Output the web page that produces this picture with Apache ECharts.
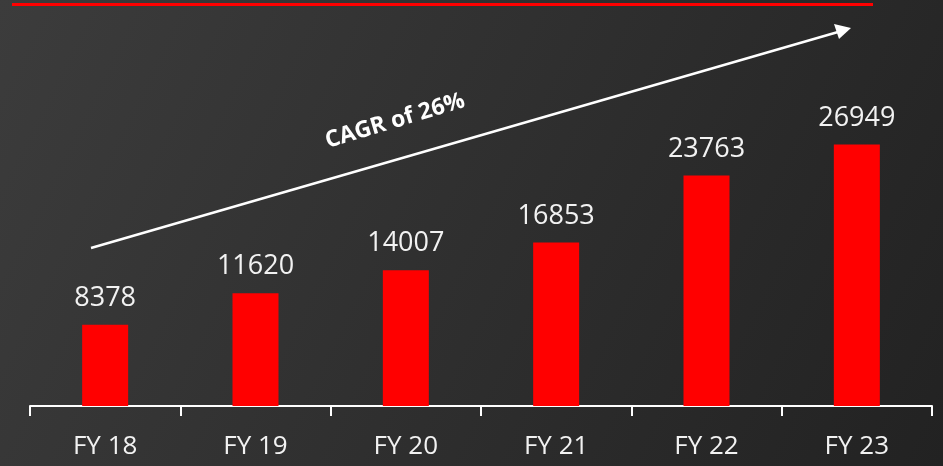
<!DOCTYPE html>
<html>
<head>
<meta charset="utf-8">
<script src="https://cdn.jsdelivr.net/npm/echarts@6/dist/echarts.min.js"></script>
<style>
  html, body { margin: 0; padding: 0; }
  #main { width: 943px; height: 466px; }
</style>
</head>
<body>
<div id="main"></div>
<script>
var years = ["FY 18", "FY 19", "FY 20", "FY 21", "FY 22", "FY 23"];
var revenue = [8378, 11620, 14007, 16853, 23763, 26949];

var myChart = echarts.init(document.getElementById("main"));

var opt = {
    backgroundColor: new echarts.graphic.LinearGradient(0, 0, 1, 1, [
        { offset: 0, color: "#3c3c3c" },
        { offset: 1, color: "#222222" }
    ]),
    animation: false,
    grid: { left: 30, right: 11, top: 115, bottom: 60 },
    xAxis: {
        type: "category",
        data: years,
        axisLine: { show: true, lineStyle: { color: "#ffffff", width: 2 } },
        axisTick: { show: true, inside: false, alignWithLabel: false, length: 10, lineStyle: { color: "#ffffff", width: 2 } },
        axisLabel: {
            color: "#f2f2f2",
            fontSize: 26,
            fontFamily: "Open Sans",
            margin: 28
        }
    },
    yAxis: {
        type: "value",
        min: 0,
        max: 30000,
        show: false,
        splitLine: { show: false }
    },
    series: [{
        type: "bar",
        data: revenue,
        barWidth: 46,
        itemStyle: { color: "#ff0000" },
        label: {
            show: true,
            position: "top",
            distance: 13,
            color: "#f2f2f2",
            fontSize: 27,
            fontFamily: "Open Sans"
        }
    }],
    graphic: [
        // red rule at the top
        { type: "rect", shape: { x: 12, y: 3, width: 861, height: 3 }, style: { fill: "#ff0000" } },
        // growth arrow
        { type: "line", shape: { x1: 91, y1: 248, x2: 838, y2: 32 }, style: { stroke: "#ffffff", lineWidth: 2.5 } },
        { type: "polygon", shape: { points: [[851, 28], [834, 24], [839, 39]] }, style: { fill: "#ffffff" } },
        {
            type: "text",
            x: 395, y: 121,
            rotation: 16.6 * Math.PI / 180,
            style: {
                text: "CAGR of 26%",
                fill: "#ffffff",
                font: "bold 23px 'Open Sans'",
                align: "center",
                verticalAlign: "middle"
            }
        }
    ]
};
myChart.setOption(opt);
</script>
</body>
</html>
